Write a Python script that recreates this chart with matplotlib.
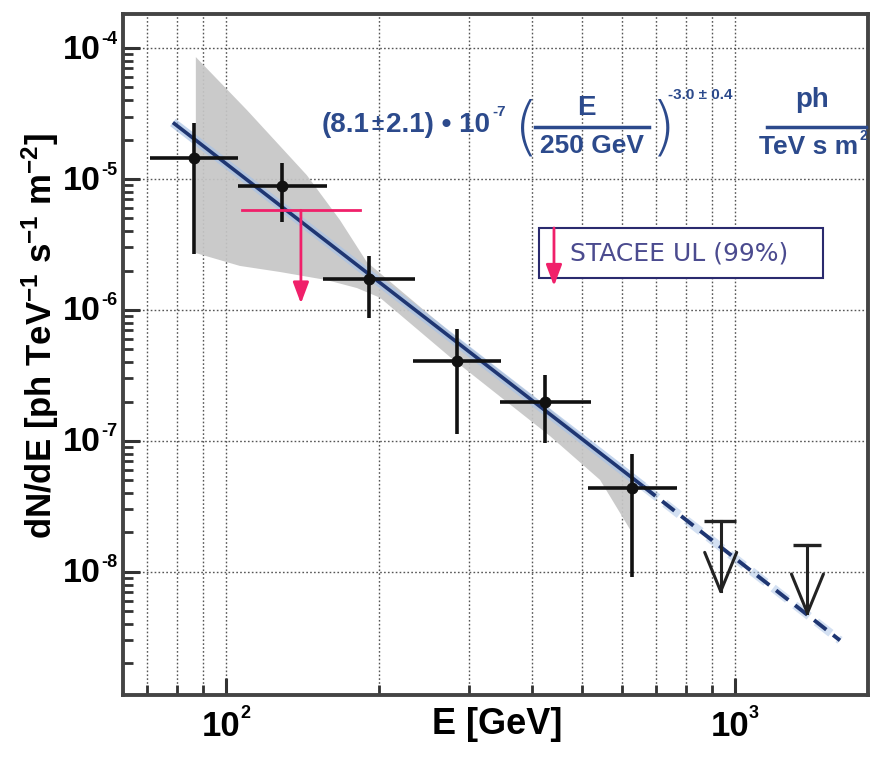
import matplotlib
matplotlib.use('Agg')
import matplotlib.pyplot as plt
import matplotlib.transforms as mtransforms
import numpy as np
from matplotlib.patches import Rectangle

# ---------------- data ----------------
E = [86.5, 128.6, 191.2, 284.7, 423.3, 626.7]
E_lo = [70.9, 105.7, 155.3, 232.7, 345.4, 514.0]
E_hi = [105.6, 157.8, 235.0, 346.5, 520.6, 770.0]
flux = [1.44e-5, 8.86e-6, 1.71e-6, 4.10e-7, 1.99e-7, 4.36e-8]
flux_hi = [2.67e-5, 1.32e-5, 2.58e-6, 7.13e-7, 3.19e-7, 7.91e-8]
flux_lo = [2.67e-6, 4.72e-6, 8.65e-7, 1.12e-7, 9.6e-8, 9.2e-9]

ul_E = [937.0, 1387.0]
ul_E_lo = [870.0, 1299.0]
ul_E_hi = [1005.0, 1478.0]
ul_flux = [2.46e-8, 1.61e-8]
ul_tip = [7.1e-9, 4.85e-9]

stacee_E = [140.4]
stacee_E_lo = [107.4]
stacee_E_hi = [183.4]
stacee_flux = [5.77e-6]
stacee_tip = [1.12e-6]

fit_E = [78.7, 660.0, 1607.0]
fit_flux = [2.7e-5, 4.5e-8, 3.0e-9]

band_up_E = [87.3, 110.0, 144.2, 167.5, 189.2, 275.4, 433.0, 627.6]
band_up_F = [8.53e-5, 3.36e-5, 1.07e-5, 4.86e-6, 2.32e-6, 6.79e-7, 1.75e-7, 5.22e-8]
band_lo_E = [87.3, 106.5, 127.7, 157.9, 180.9, 200.8, 275.4, 433.0, 543.0, 627.6]
band_lo_F = [2.72e-6, 2.17e-6, 1.95e-6, 1.69e-6, 1.47e-6, 1.24e-6, 4.38e-7, 1.09e-7, 5.04e-8, 1.99e-8]

x_ticks = [100, 1000]
x_tick_exp = ['2', '3']
y_ticks = [1e-8, 1e-7, 1e-6, 1e-5, 1e-4]
y_tick_exp = ['-8', '-7', '-6', '-5', '-4']
tick_base = '10'
x_grid = [70, 80, 90, 100, 200, 300, 400, 500, 600, 700, 800, 900, 1000]

legend_label = 'STACEE UL (99%)'
xlabel = 'E [GeV]'
ylabel = r'dN/dE [ph TeV$^{\mathbf{-1}}$ s$^{\mathbf{-1}}$ m$^{\mathbf{-2}}$]'

# ---------------- style ----------------
plt.rcParams['font.family'] = ['Liberation Sans', 'DejaVu Sans']
plt.rcParams['mathtext.fontset'] = 'custom'
plt.rcParams['mathtext.rm'] = 'Liberation Sans:bold'
plt.rcParams['mathtext.bf'] = 'Liberation Sans:bold'
plt.rcParams['mathtext.default'] = 'bf'

W, H = 873, 758
fig = plt.figure(figsize=(W / 100, H / 100), dpi=100)
ax = fig.add_axes([123 / W, 1 - 695 / H, (868 - 123) / W, (695 - 14) / H])
ax.set_xscale('log')
ax.set_yscale('log')
ax.set_xlim(62.8, 1824)
ax.set_ylim(10 ** -8.94, 10 ** -3.74)

grid_kw = dict(color='#555555', lw=1.0, ls=(0, (1.2, 1.6)), zorder=0.5)
for v in x_grid:
    ax.axvline(v, **grid_kw)
for v in y_ticks:
    ax.axhline(v, **grid_kw)

# butterfly band
poly_E = band_up_E + band_lo_E[::-1]
poly_F = band_up_F + band_lo_F[::-1]
ax.fill(poly_E, poly_F, color='#c6c6c6', lw=0, zorder=1, alpha=0.92)

# fit line (halo + line), solid then dashed
ax.plot(fit_E[:2], fit_flux[:2], color='#a8c2e6', lw=6.5, alpha=0.7, zorder=2, solid_capstyle='butt')
ax.plot(fit_E[:2], fit_flux[:2], color='#1f3672', lw=2.6, zorder=3, solid_capstyle='butt')
ax.plot(fit_E[1:], fit_flux[1:], color='#a8c2e6', lw=6, alpha=0.5, zorder=2, ls=(0, (2.2, 1.1)))
ax.plot(fit_E[1:], fit_flux[1:], color='#1f3672', lw=2.8, zorder=3, ls=(0, (4.0, 2.2)))

# data points
Ea = np.array(E); Fa = np.array(flux)
ax.errorbar(Ea, Fa,
            xerr=[Ea - np.array(E_lo), np.array(E_hi) - Ea],
            yerr=[Fa - np.array(flux_lo), np.array(flux_hi) - Fa],
            fmt='o', color='#111111', ms=7.5, elinewidth=2.6, capsize=0, zorder=5)

# black upper limits
fig.canvas.draw()
to_disp = ax.transData.transform
to_data = ax.transData.inverted().transform
for e, lo, hi, f, t in zip(ul_E, ul_E_lo, ul_E_hi, ul_flux, ul_tip):
    ax.plot([lo, hi], [f, f], color='#222222', lw=2.4, zorder=5, solid_capstyle='butt')
    ax.plot([e, e], [f, t], color='#222222', lw=2.2, zorder=5)
    tx, ty = to_disp((e, t))
    for dx in (-16, 16):
        wx, wy = to_data((tx + dx, ty + 39))
        ax.plot([wx, e], [wy, t], color='#222222', lw=2.2, zorder=5, solid_capstyle='round')

# STACEE upper limit (pink)
pink = '#f0206a'
arrow_style = '-|>,head_length=0.8,head_width=0.3'
for e, lo, hi, f, t in zip(stacee_E, stacee_E_lo, stacee_E_hi, stacee_flux, stacee_tip):
    ax.plot([lo, hi], [f, f], color=pink, lw=2.0, zorder=6)
    ax.annotate('', xy=(e, t), xytext=(e, f),
                arrowprops=dict(arrowstyle=arrow_style, color=pink, lw=2.0,
                                shrinkA=0, shrinkB=0, mutation_scale=16), zorder=6)

# legend box
ax.add_patch(Rectangle((0.558, 0.6128), 0.9396 - 0.558, 0.6858 - 0.6128, transform=ax.transAxes,
                       facecolor='white', edgecolor='#2a2a6e', lw=1.5, zorder=7))
ax.annotate('', xy=(0.5785, 0.6006), xytext=(0.5785, 0.6858), xycoords='axes fraction',
            arrowprops=dict(arrowstyle=arrow_style, color=pink, lw=2.0,
                            shrinkA=0, shrinkB=0, mutation_scale=16), zorder=8)
ax.text(0.600, 0.649, legend_label, transform=ax.transAxes, fontsize=18, color='#4b4b8f',
        family=['DejaVu Sans'], va='center', ha='left', zorder=8)

# formula
blue = '#2c4a8c'
def ftext(px, py, s, weight='bold', **kw):
    fig.text(px / W, 1 - py / H, s, color=blue, fontweight=weight, **kw)

ftext(322, 125, '(8.1', fontsize=20, ha='left', va='center')
ftext(372, 125, '±', fontsize=16, ha='left', va='center')
ftext(386, 125, '2.1) • 10', fontsize=20, ha='left', va='center')
ftext(492, 112, '-7', fontsize=11, ha='left', va='center')
ftext(514, 130, '(', weight='light', fontsize=46, ha='left', va='center', family=['DejaVu Sans'])
ftext(651, 130, ')', weight='light', fontsize=46, ha='left', va='center', family=['DejaVu Sans'])
ftext(586, 108, 'E', fontsize=20, ha='center', va='center')
ftext(592, 146, '250 GeV', fontsize=19, ha='center', va='center')
ftext(668, 95, '-3.0 ± 0.4', fontsize=11, ha='left', va='center')
ftext(812, 100, 'ph', fontsize=20, ha='center', va='center')
ftext(809, 147, 'TeV s m', fontsize=19, ha='center', va='center')
ftext(859, 136, '2', fontsize=10, ha='left', va='center')
fig.add_artist(plt.Line2D([535 / W, 649 / W], [1 - 126.5 / H, 1 - 126.5 / H], color=blue, lw=2.5))
fig.add_artist(plt.Line2D([767 / W, 866 / W], [1 - 127 / H, 1 - 127 / H], color=blue, lw=2.5))

# axes and ticks (labels drawn as base + small exponent)
ax.set_xticks(x_ticks)
ax.set_yticks(y_ticks)
ax.set_xticklabels([])
ax.set_yticklabels([])
ax.tick_params(axis='both', which='major', direction='in', length=12, width=2.2, color='#333333',
               top=False, right=False)
ax.tick_params(axis='both', which='minor', direction='in', length=7, width=2.0, color='#333333',
               top=False, right=False, labelleft=False, labelbottom=False)
for sp in ax.spines.values():
    sp.set_linewidth(2.8)
    sp.set_color('#444444')

ytr = mtransforms.blended_transform_factory(ax.transAxes, ax.transData)
xtr = mtransforms.blended_transform_factory(ax.transData, ax.transAxes)
for v, ex in zip(y_ticks, y_tick_exp):
    base_tr = mtransforms.offset_copy(ytr, fig=fig, x=-22, y=-2, units='dots')
    exp_tr = mtransforms.offset_copy(ytr, fig=fig, x=-22, y=9, units='dots')
    ax.text(0, v, tick_base, transform=base_tr, fontsize=24.5, fontweight='bold', ha='right', va='center',
            clip_on=False)
    ax.text(0, v, ex, transform=exp_tr, fontsize=13, fontweight='bold', ha='left', va='center',
            clip_on=False)
for v, ex in zip(x_ticks, x_tick_exp):
    base_tr = mtransforms.offset_copy(xtr, fig=fig, x=14, y=-32, units='dots')
    exp_tr = mtransforms.offset_copy(xtr, fig=fig, x=14, y=-18, units='dots')
    ax.text(v, 0, tick_base, transform=base_tr, fontsize=25, fontweight='bold', ha='right', va='center',
            clip_on=False)
    ax.text(v, 0, ex, transform=exp_tr, fontsize=13, fontweight='bold', ha='left', va='center',
            clip_on=False)

fig.text(497 / W, 1 - 725 / H, xlabel, fontsize=26, fontweight='bold', ha='center', va='center')
fig.text(40 / W, 1 - 336 / H, ylabel, fontsize=25, fontweight='bold', ha='center', va='center',
         rotation=90)

fig.savefig('out.png', dpi=100)
